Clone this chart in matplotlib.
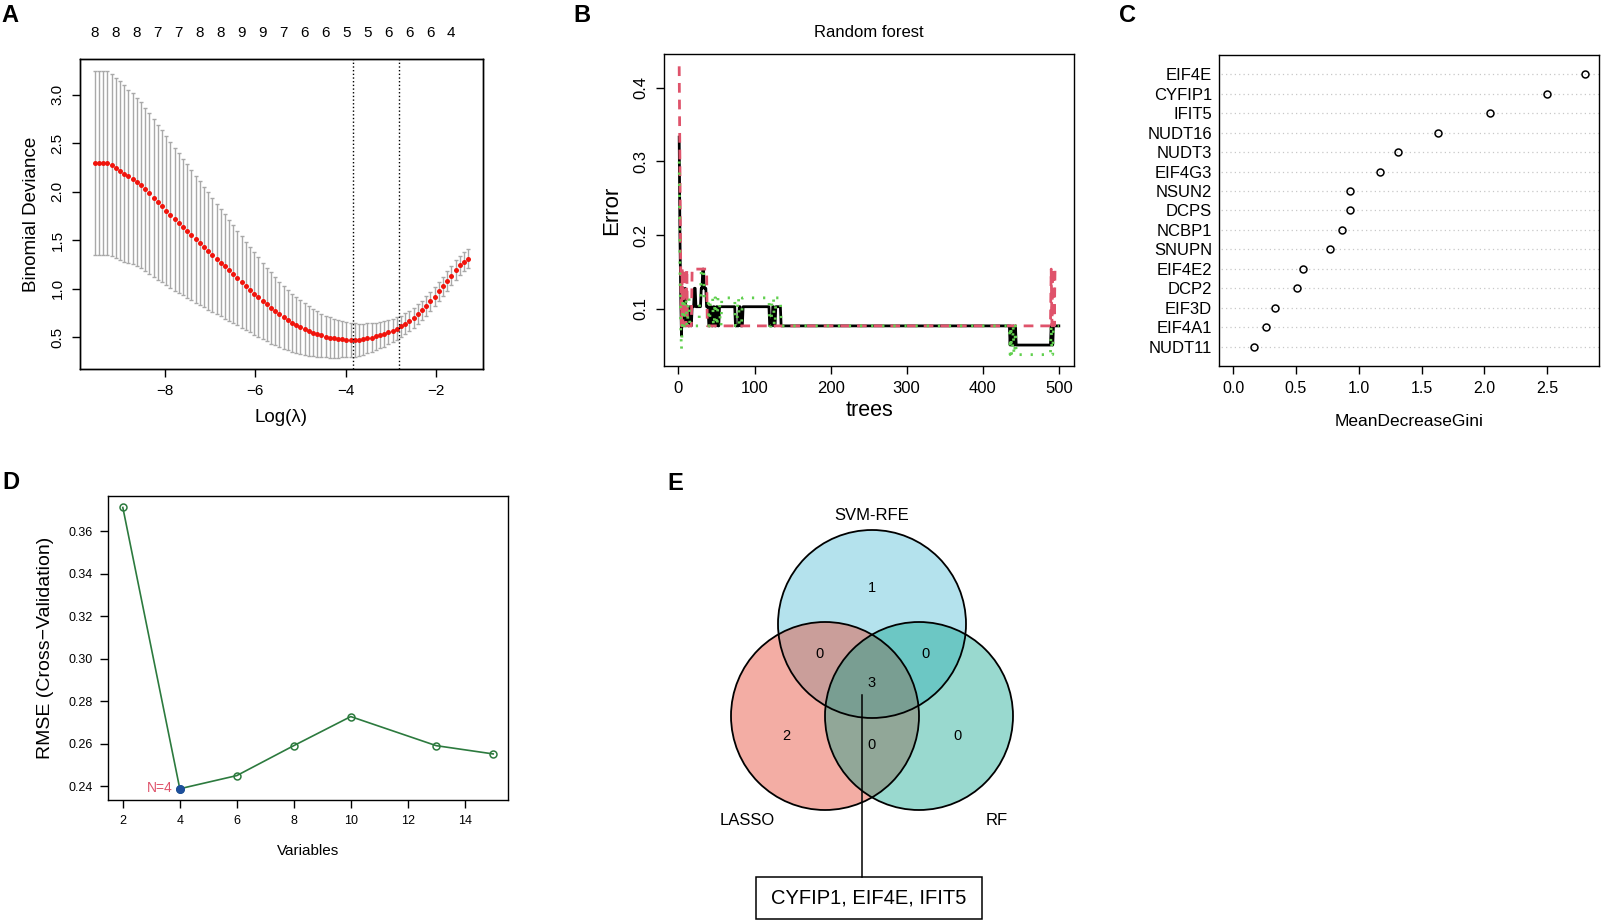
import numpy as np
import matplotlib
matplotlib.use("Agg")
import matplotlib.pyplot as plt
from matplotlib.patches import Circle, Rectangle

plt.rcParams['font.family'] = ['Liberation Sans', 'DejaVu Sans']
plt.rcParams['axes.linewidth'] = 1.0

W, H = 1611, 921

# ---------------- A: LASSO cross-validation ----------------
log_lambda = np.linspace(-9.55, -1.29, 90)
cv_mean = [2.300, 2.300, 2.300, 2.300, 2.278, 2.247, 2.219, 2.188, 2.160, 2.133,
           2.099, 2.065, 2.023, 1.982, 1.937, 1.892, 1.848, 1.803, 1.758, 1.716,
           1.676, 1.634, 1.593, 1.552, 1.511, 1.469, 1.428, 1.387, 1.346, 1.305,
           1.267, 1.229, 1.188, 1.150, 1.109, 1.068, 1.030, 0.989, 0.949, 0.911,
           0.874, 0.836, 0.800, 0.766, 0.733, 0.703, 0.674, 0.648, 0.624, 0.602,
           0.582, 0.563, 0.546, 0.531, 0.517, 0.505, 0.495, 0.487, 0.481, 0.476,
           0.473, 0.471, 0.470, 0.472, 0.477, 0.485, 0.495, 0.506, 0.519, 0.533,
           0.549, 0.567, 0.588, 0.611, 0.638, 0.668, 0.701, 0.736, 0.776, 0.820,
           0.868, 0.918, 0.970, 1.023, 1.078, 1.134, 1.190, 1.240, 1.279, 1.309]
cv_se = [0.950, 0.950, 0.950, 0.950, 0.940, 0.930, 0.920, 0.910, 0.895, 0.883,
         0.870, 0.857, 0.843, 0.829, 0.815, 0.800, 0.785, 0.769, 0.753, 0.737,
         0.720, 0.704, 0.688, 0.672, 0.656, 0.640, 0.623, 0.606, 0.589, 0.572,
         0.555, 0.538, 0.521, 0.504, 0.487, 0.470, 0.455, 0.440, 0.425, 0.410,
         0.395, 0.381, 0.367, 0.353, 0.339, 0.325, 0.313, 0.301, 0.289, 0.277,
         0.265, 0.255, 0.245, 0.235, 0.225, 0.215, 0.207, 0.200, 0.193, 0.187,
         0.181, 0.176, 0.172, 0.166, 0.160, 0.155, 0.149, 0.143, 0.137, 0.131,
         0.125, 0.120, 0.115, 0.110, 0.107, 0.105, 0.103, 0.102, 0.101, 0.100,
         0.100, 0.100, 0.100, 0.100, 0.100, 0.100, 0.100, 0.100, 0.100, 0.100]
nz_labels = ["8", "8", "8", "7", "7", "8", "8", "9", "9", "7", "6", "6",
             "5", "5", "6", "6", "6", "4"]
log_lambda_min = -3.83
log_lambda_1se = -2.81

# ---------------- B: random forest error (run-length: start tree, value) ----------------
n_trees = 500
oob_start = [1, 2, 3, 4, 5, 6, 7, 8, 9, 10, 11, 13, 15, 17, 18, 21, 23, 30, 32, 34, 37, 40,
             42, 44, 46, 48, 50, 52, 54, 75, 80, 82, 85, 120, 124, 126, 128, 135,
             436, 437, 438, 440, 441, 443, 444, 490, 491, 493]
oob_val = [0.333, 0.200, 0.120, 0.064, 0.103, 0.128, 0.077, 0.103, 0.128, 0.077, 0.103,
           0.077, 0.103, 0.077, 0.103, 0.128, 0.103, 0.128, 0.154, 0.128, 0.103, 0.077,
           0.103, 0.077, 0.103, 0.077, 0.103, 0.077, 0.103, 0.077, 0.103, 0.077, 0.103,
           0.077, 0.103, 0.077, 0.103, 0.077,
           0.051, 0.077, 0.051, 0.077, 0.051, 0.077, 0.051, 0.077, 0.051, 0.077]
cls1_start = [1, 2, 3, 4, 5, 6, 8, 9, 11, 12, 14, 18, 38, 490, 491, 492, 494, 495]
cls1_val = [0.429, 0.300, 0.154, 0.077, 0.154, 0.077, 0.154, 0.077, 0.154, 0.077,
            0.077, 0.154, 0.077, 0.154, 0.077, 0.154, 0.077, 0.154]
cls2_start = [1, 2, 3, 4, 5, 6, 7, 9, 11, 13, 15, 28, 30, 34, 40, 42, 46, 48, 50, 52,
              55, 57, 75, 78, 80, 84, 120, 123, 126, 128, 135,
              436, 437, 438, 440, 441, 443, 444, 490, 491, 493]
cls2_val = [0.300, 0.150, 0.077, 0.045, 0.077, 0.115, 0.077, 0.115, 0.077, 0.115, 0.077,
            0.115, 0.154, 0.115, 0.077, 0.115, 0.077, 0.115, 0.077, 0.115,
            0.077, 0.115, 0.077, 0.115, 0.077, 0.115, 0.077, 0.115, 0.077, 0.115, 0.077,
            0.038, 0.077, 0.038, 0.077, 0.038, 0.077, 0.038, 0.077, 0.038, 0.077]

# ---------------- C: variable importance ----------------
genes = ["EIF4E", "CYFIP1", "IFIT5", "NUDT16", "NUDT3", "EIF4G3", "NSUN2", "DCPS",
         "NCBP1", "SNUPN", "EIF4E2", "DCP2", "EIF3D", "EIF4A1", "NUDT11"]
gini = [2.800, 2.496, 2.042, 1.628, 1.315, 1.169, 0.931, 0.928,
        0.870, 0.769, 0.554, 0.512, 0.332, 0.263, 0.165]

# ---------------- D: SVM-RFE ----------------
n_vars = [2, 4, 6, 8, 10, 13, 15]
rmse = [0.3713, 0.2388, 0.2450, 0.2591, 0.2728, 0.2591, 0.2552]

# ---------------- E: Venn ----------------
set_names = ["SVM-RFE", "LASSO", "RF"]
set_colors = ["#4DBBD5", "#E64B35", "#00A087"]
set_alpha = [0.42, 0.45, 0.40]
region_counts = {"S": 1, "L": 2, "R": 0, "SL": 0, "SR": 0, "LR": 0, "SLR": 3}
common_genes = ["CYFIP1", "EIF4E", "IFIT5"]


def expand(starts, vals, n):
    t = np.arange(1, n + 1)
    idx = np.searchsorted(starts, t, side="right") - 1
    return t, np.asarray(vals)[idx]


def px_axes(l, t, r, b):
    return fig.add_axes([l / W, 1 - b / H, (r - l) / W, (b - t) / H])


def r_style(ax, size):
    ax.tick_params(direction="out", length=6, width=1, labelsize=size, pad=5)


fig = plt.figure(figsize=(W / 100, H / 100), dpi=100)

# ----- A -----
ax = px_axes(80, 59, 483, 369)
ax.errorbar(log_lambda, cv_mean, yerr=cv_se, fmt="none", ecolor="#a9a9a9",
            elinewidth=1.0, capsize=1.6, capthick=1.0)
ax.plot(log_lambda, cv_mean, "o", color="#f0140c", ms=3.6, mew=0)
ax.axvline(log_lambda_min, color="k", ls=":", lw=1.0)
ax.axvline(log_lambda_1se, color="k", ls=":", lw=1.0)
ax.set_xlim(-9.88, -0.96)
ax.set_ylim(0.17, 3.37)
ax.set_xticks([-8, -6, -4, -2])
ax.set_yticks([0.5, 1.0, 1.5, 2.0, 2.5, 3.0])
ax.set_yticklabels(["0.5", "1.0", "1.5", "2.0", "2.5", "3.0"])
r_style(ax, 11)
for lab in ax.get_yticklabels():
    lab.set_rotation(90)
    lab.set_va("center")
ax.set_ylabel("Binomial Deviance", fontsize=13.5, labelpad=8)
ax.set_xlabel("Log(λ)", fontsize=13.5, labelpad=8)
top = ax.twiny()
top.set_xlim(ax.get_xlim())
top.set_xticks(log_lambda[::5])
top.set_xticklabels(nz_labels)
top.tick_params(length=0, labelsize=11, pad=14)

# ----- B -----
ax = px_axes(664, 54, 1074, 366)
t, oob = expand(oob_start, oob_val, n_trees)
_, e1 = expand(cls1_start, cls1_val, n_trees)
_, e2 = expand(cls2_start, cls2_val, n_trees)
ax.plot(t, oob, color="black", lw=2.0)
ax.plot(t, e1, color="#DF536B", lw=2.0, dashes=(3.5, 2.5))
ax.plot(t, e2, color="#61D04F", lw=2.0, dashes=(0.8, 3.2))
ax.set_xlim(-18.96, 519.96)
ax.set_ylim(0.0226, 0.4457)
ax.set_xticks([0, 100, 200, 300, 400, 500])
ax.set_yticks([0.1, 0.2, 0.3, 0.4])
r_style(ax, 12)
for lab in ax.get_yticklabels():
    lab.set_rotation(90)
    lab.set_va("center")
ax.set_ylabel("Error", fontsize=16, labelpad=8)
ax.set_xlabel("trees", fontsize=15.5, labelpad=3)
ax.set_title("Random forest", fontsize=12, pad=12)

# ----- C -----
ax = px_axes(1219, 55, 1599, 366)
ypos = np.arange(len(genes), 0, -1)
ax.hlines(ypos, -0.2, 3.0, colors="#c8c8c8", linestyles=(0, (1, 2.5)), lw=0.9)
ax.plot(gini, ypos, "o", mfc="none", mec="black", ms=5, mew=1.1)
ax.set_xlim(-0.112, 2.912)
ax.set_ylim(0, len(genes) + 1)
ax.set_yticks(ypos)
ax.set_yticklabels(genes)
ax.set_xticks([0.0, 0.5, 1.0, 1.5, 2.0, 2.5])
ax.set_xticklabels(["0.0", "0.5", "1.0", "1.5", "2.0", "2.5"])
r_style(ax, 11.5)
ax.tick_params(axis="y", length=0, pad=5, labelsize=12)
ax.set_xlabel("MeanDecreaseGini", fontsize=12.5, labelpad=13)

# ----- D -----
ax = px_axes(108, 496, 508, 800)
green = "#2c7a3e"
ax.plot(n_vars, rmse, "-o", color=green, mfc="none", mec=green, ms=5, mew=1.1, lw=1.2)
best = int(np.argmin(rmse))
ax.plot(n_vars[best], rmse[best], "o", color="#1d4f9c", ms=5.5)
ax.text(n_vars[best] - 0.25, rmse[best] + 0.0005, "N=%d" % n_vars[best], color="#DF536B",
        ha="right", va="center", fontsize=10)
ax.set_xlim(1.48, 15.52)
ax.set_ylim(0.2335, 0.3767)
ax.set_xticks([2, 4, 6, 8, 10, 12, 14])
ax.set_yticks([0.24, 0.26, 0.28, 0.30, 0.32, 0.34, 0.36])
ax.set_yticklabels(["%.2f" % v for v in [0.24, 0.26, 0.28, 0.30, 0.32, 0.34, 0.36]])
r_style(ax, 9)
ax.set_ylabel("RMSE (Cross\u2212Validation)", fontsize=14, labelpad=10)
ax.set_xlabel("Variables", fontsize=11, labelpad=12)

# ----- E -----
ax = px_axes(680, 495, 1060, 921)
ax.set_xlim(680, 1060)
ax.set_ylim(921, 495)
ax.axis("off")
centers = [(872, 624), (825, 716), (919, 716)]
for (cx, cy), col, a in zip(centers, set_colors, set_alpha):
    ax.add_patch(Circle((cx, cy), 94, facecolor=col, alpha=a, edgecolor="none"))
for (cx, cy) in centers:
    ax.add_patch(Circle((cx, cy), 94, facecolor="none", edgecolor="black", lw=1.3))
ax.text(872, 515, set_names[0], ha="center", va="center", fontsize=12)
ax.text(747, 820, set_names[1], ha="center", va="center", fontsize=12)
ax.text(997, 820, set_names[2], ha="center", va="center", fontsize=12)
count_pos = {"S": (872, 588), "SL": (819, 654), "SR": (925, 654), "SLR": (872, 683),
             "L": (786, 736), "LR": (872, 745), "R": (957, 736)}
for key, (x, y) in count_pos.items():
    ax.text(x, y, str(region_counts[key]), ha="center", va="center", fontsize=10.5)
ax.plot([862, 862], [695, 877], color="black", lw=1.1)
ax.add_patch(Rectangle((756, 877), 226, 42, facecolor="white", edgecolor="black", lw=1.1))
ax.text(869, 898, ", ".join(common_genes), ha="center", va="center", fontsize=14.5)

# panel letters
for letter, (x, y) in {"A": (10, 15), "B": (582, 16), "C": (1128, 16),
                       "D": (11, 482), "E": (675, 483)}.items():
    fig.text(x / W, 1 - y / H, letter, fontsize=17, fontweight="bold",
             ha="center", va="center")

fig.savefig("out.png", dpi=100)
